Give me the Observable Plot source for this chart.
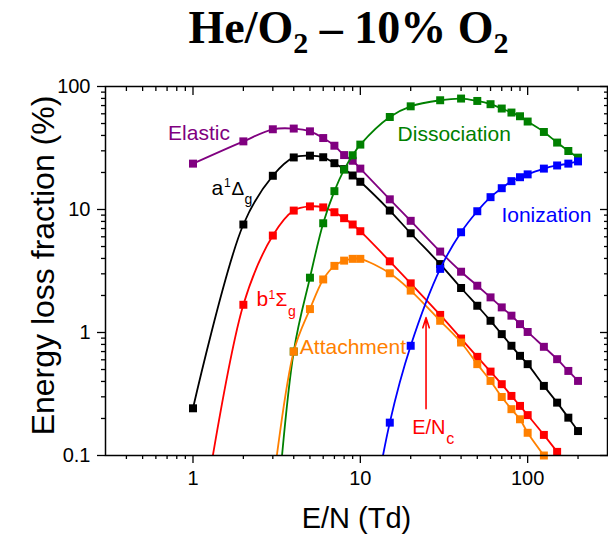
<!DOCTYPE html>
<html><head><meta charset="utf-8">
<script src="https://cdn.jsdelivr.net/npm/d3@7"></script>
<script src="https://cdn.jsdelivr.net/npm/@observablehq/plot@0.6"></script>
<style>
body{margin:0;background:#fff;}
#wrap{position:relative;width:608px;height:535px;overflow:hidden;background:#fff;}
#title{position:absolute;left:0;top:2px;width:697px;text-align:center;font-family:"Liberation Serif","Times New Roman",serif;font-weight:bold;font-size:46px;line-height:51px;color:#000;white-space:nowrap;}
#title .sub{font-size:30px;vertical-align:-10px;}
#chart{position:absolute;left:0;top:70px;}
</style></head>
<body><div id="wrap"><div id="title">He/O<span class="sub">2</span> – 10% O<span class="sub">2</span></div><div id="chart"></div></div>
<script>
// E/N grid (Td)
const xValues = [1,2,3,4,5,6,7,8,9,10,15,20,30,40,50,60,70,80,90,100,125,150,175,200];
// Energy loss fractions (%) — null = not present
const elastic      = [23.6,35.8,44.9,45.5,43.2,38.1,33.0,27.7,24.9,21.5,12.1,8.09,4.55,3.12,2.40,1.93,1.60,1.37,1.17,1.01,0.765,0.607,0.487,0.404];
const a1Dg         = [0.242,7.55,18.8,26.5,27.4,26.6,23.8,21.3,18.9,16.8,9.8,6.41,3.6,2.3,1.65,1.245,0.97,0.78,0.646,0.553,0.368,0.269,0.203,0.158];
const b1Sg         = [0.01,1.68,6.14,9.8,10.6,10.4,9.5,8.5,7.55,6.66,3.79,2.51,1.39,0.893,0.634,0.481,0.38,0.305,0.253,0.213,0.147,0.107,null,null];
const dissociation = [null,null,0.013,0.70,2.79,7.73,14.1,21.1,27.6,33.7,56.5,69.0,77.3,79.8,76.3,71.8,66.2,61.4,57.3,51.9,42.7,35.0,29.9,26.4];
const attachment   = [null,null,0.055,0.70,1.55,2.70,3.48,3.84,3.97,3.97,3.03,2.19,1.245,0.829,0.553,0.404,0.299,0.238,0.197,0.153,0.100,null,null,null];
const ionization   = [null,null,null,null,null,null,null,null,null,0.009,0.185,0.78,3.29,6.53,9.68,12.6,14.9,17.0,18.3,19.3,21.5,22.8,23.6,24.6];

// ticks
const xMajor = [1,10,100];
const xTickLabels = ["1","10","100"];
const xMinor = [0.4,0.5,0.6,0.7,0.8,0.9,2,3,4,5,6,7,8,9,20,30,40,50,60,70,80,90,200];
const yMajor = [0.1,1,10,100];
const yTickLabels = ["0.1","1","10","100"];
const yMinor = [0.2,0.3,0.4,0.5,0.6,0.7,0.8,0.9,2,3,4,5,6,7,8,9,20,30,40,50,60,70,80,90];

// annotations
const labelText  = ["Elastic","Dissociation","Ionization","Attachment"];
const labelX     = [0.71,16.7,69.7,4.35];
const labelY     = [36.5,35.8,7.88,0.667];
const arrowX = 24.7, arrowFrom = 0.24, arrowTo = 1.32;

const colors = {elastic:"#800080", a1Dg:"#000000", b1Sg:"#ff0000", dissociation:"#008000", attachment:"#ff8000", ionization:"#0000ff"};
const series = [
  ["elastic", elastic], ["a1Dg", a1Dg], ["b1Sg", b1Sg],
  ["dissociation", dissociation], ["attachment", attachment], ["ionization", ionization]
];

const marks = [];
for (const [key, vals] of series) {
  const rows = xValues.map((x, i) => ({x, y: vals[i]})).filter(d => d.y != null);
  marks.push(Plot.line(rows, {x: "x", y: "y", stroke: colors[key], strokeWidth: 1.8, curve: "catmull-rom", clip: true}));
  marks.push(Plot.dot(rows.filter(d => d.y >= 0.099), {x: "x", y: "y", symbol: "square", r: 4.5, fill: colors[key], stroke: "none"}));
}

const labelColors = [colors.elastic, colors.dissociation, colors.ionization, colors.attachment];
labelText.forEach((t, i) => {
  marks.push(Plot.text([t], {x: () => labelX[i], y: () => labelY[i], text: d => d, fill: labelColors[i], fontSize: 21, textAnchor: "start", lineAnchor: "bottom"}));
});

// composite labels with sub/superscripts
const composite = [
  {x: 1.29, y: 13.0, color: colors.a1Dg, parts: [["a",0,0,21],["1",12.5,-8,12],["Δ",20,0,19],["g",33,9,14]]},
  {x: 2.40, y: 1.65, color: colors.b1Sg, parts: [["b",0,0,21],["1",12,-7,12],["Σ",19,0,19],["g",31.5,10,14]]},
  {x: 20.4, y: 0.1486, color: "#ff0000", parts: [["E/N",0,0,20],["c",34,10,16]]}
];
for (const c of composite) {
  for (const [t, dx, dy, fs] of c.parts) {
    marks.push(Plot.text([t], {x: () => c.x, y: () => c.y, text: d => d, fill: c.color, fontSize: fs, dx, dy, textAnchor: "start", lineAnchor: "bottom"}));
  }
}

marks.push(Plot.arrow([0], {x1: () => arrowX, x2: () => arrowX, y1: () => arrowFrom, y2: () => arrowTo, stroke: "#ff0000", strokeWidth: 1.6, headLength: 10, headAngle: 35}));

// axes
marks.push(Plot.frame({stroke: "#000", strokeWidth: 1.5}));
marks.push(Plot.axisX(xMajor, {anchor: "bottom", tickSize: 8, tickPadding: 7, fontSize: 20, tickFormat: d => xTickLabels[xMajor.indexOf(d)], label: null, strokeWidth: 1.3}));
marks.push(Plot.axisX(xMinor, {anchor: "bottom", tickSize: 4, tickFormat: () => "", label: null, strokeWidth: 1.3}));
marks.push(Plot.axisX(xMajor, {anchor: "top", tickSize: -8, tickFormat: () => "", label: null, strokeWidth: 1.3}));
marks.push(Plot.axisX(xMinor, {anchor: "top", tickSize: -4, tickFormat: () => "", label: null, strokeWidth: 1.3}));
marks.push(Plot.axisY(yMajor, {anchor: "left", tickSize: 8, tickPadding: 7, fontSize: 20, tickFormat: d => yTickLabels[yMajor.indexOf(d)], label: null, strokeWidth: 1.3}));
marks.push(Plot.axisY(yMinor, {anchor: "left", tickSize: 4, tickFormat: () => "", label: null, strokeWidth: 1.3}));
marks.push(Plot.axisY(yMajor, {anchor: "right", tickSize: -8, tickFormat: () => "", label: null, strokeWidth: 1.3}));
marks.push(Plot.axisY(yMinor, {anchor: "right", tickSize: -4, tickFormat: () => "", label: null, strokeWidth: 1.3}));

marks.push(Plot.text(["Energy loss fraction (%)"], {frameAnchor: "left", text: d => d, rotate: -90, dx: -52, dy: -5.5, fontSize: 32, textAnchor: "middle", lineAnchor: "bottom"}));
marks.push(Plot.text(["E/N (Td)"], {frameAnchor: "bottom", text: d => d, dy: 72, fontSize: 29, textAnchor: "middle", lineAnchor: "bottom"}));

const chart = Plot.plot({
  width: 608,
  height: 465,
  marginTop: 16,
  marginBottom: 80,
  marginLeft: 105,
  marginRight: 1,
  x: {type: "log", domain: [0.3, 300]},
  y: {type: "log", domain: [0.1, 100]},
  style: {fontFamily: "'Liberation Sans', Arial, sans-serif", background: "white", color: "black", overflow: "visible"},
  marks
});
document.getElementById("chart").appendChild(chart);
</script>
</body></html>
